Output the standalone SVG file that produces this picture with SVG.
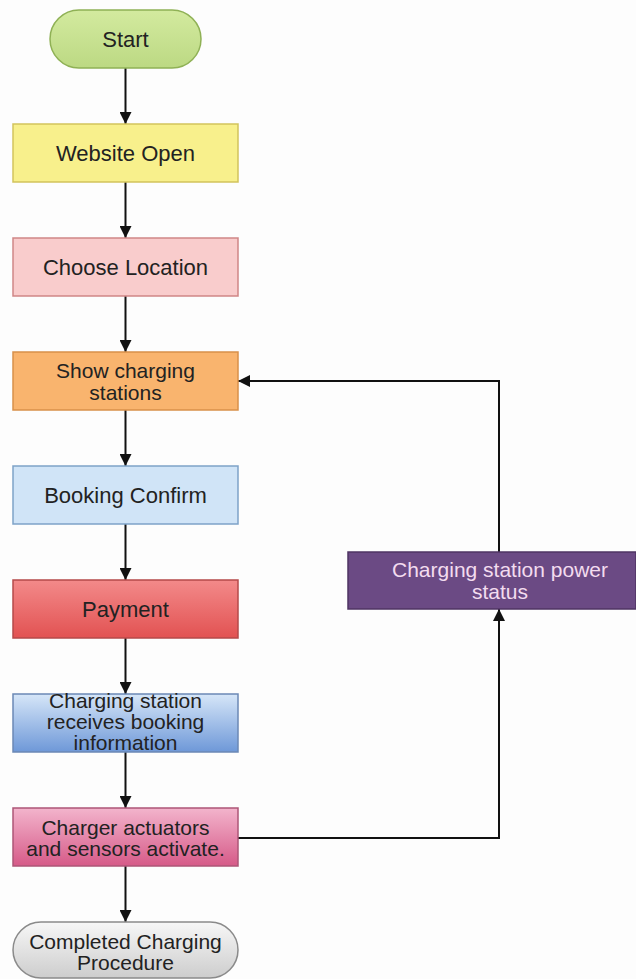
<svg xmlns="http://www.w3.org/2000/svg" width="636" height="979" viewBox="0 0 636 979">
  <style>
    .lbl { font-family: "Liberation Sans", Arial, sans-serif; font-size: 22px; fill: #222; text-anchor: middle; }
    .ml { font-size: 21px; }
    .lbl-light { font-family: "Liberation Sans", Arial, sans-serif; font-size: 21px; fill: #f3dcef; text-anchor: middle; }
    .edge { fill: none; stroke: #111; stroke-width: 2; }
    .box { stroke-width: 1.5; }
  </style>
  <defs>
    <marker id="arrow" viewBox="0 0 12 12" refX="12" refY="6" markerWidth="12" markerHeight="12" markerUnits="userSpaceOnUse" orient="auto">
      <path d="M0,0 L12,6 L0,12 Z" fill="#111"/>
    </marker>
    <linearGradient id="gStart" x1="0" y1="0" x2="0" y2="1">
      <stop offset="0" stop-color="#d3ea9f"/>
      <stop offset="1" stop-color="#bcd983"/>
    </linearGradient>
    <linearGradient id="gPay" x1="0" y1="0" x2="0" y2="1">
      <stop offset="0" stop-color="#f38a8a"/>
      <stop offset="1" stop-color="#e25252"/>
    </linearGradient>
    <linearGradient id="gRecv" x1="0" y1="0" x2="0" y2="1">
      <stop offset="0" stop-color="#d6e6f8"/>
      <stop offset="1" stop-color="#6e98d8"/>
    </linearGradient>
    <linearGradient id="gAct" x1="0" y1="0" x2="0" y2="1">
      <stop offset="0" stop-color="#f3b4cc"/>
      <stop offset="1" stop-color="#d65a88"/>
    </linearGradient>
    <linearGradient id="gDone" x1="0" y1="0" x2="0" y2="1">
      <stop offset="0" stop-color="#f7f7f7"/>
      <stop offset="1" stop-color="#cdcdcd"/>
    </linearGradient>
  </defs>

  <rect x="0" y="0" width="636" height="979" fill="#fdfdfd"/>

  <!-- connectors -->
  <g id="connectors">
    <line class="edge" x1="125.5" y1="68" x2="125.5" y2="124" marker-end="url(#arrow)"/>
    <line class="edge" x1="125.5" y1="182" x2="125.5" y2="238" marker-end="url(#arrow)"/>
    <line class="edge" x1="125.5" y1="296" x2="125.5" y2="352" marker-end="url(#arrow)"/>
    <line class="edge" x1="125.5" y1="410" x2="125.5" y2="466" marker-end="url(#arrow)"/>
    <line class="edge" x1="125.5" y1="524" x2="125.5" y2="580" marker-end="url(#arrow)"/>
    <line class="edge" x1="125.5" y1="638" x2="125.5" y2="694" marker-end="url(#arrow)"/>
    <line class="edge" x1="125.5" y1="752" x2="125.5" y2="808" marker-end="url(#arrow)"/>
    <line class="edge" x1="125.5" y1="866" x2="125.5" y2="922" marker-end="url(#arrow)"/>
    <polyline class="edge" points="238,838 499,838 499,609" marker-end="url(#arrow)"/>
    <polyline class="edge" points="499,552 499,381 238,381" marker-end="url(#arrow)"/>
  </g>

  <g id="start">
    <rect class="box" x="50" y="10" width="151" height="58" rx="29" fill="url(#gStart)" stroke="#8fb155"/>
    <text class="lbl" x="125.5" y="46.5">Start</text>
  </g>

  <g id="website-open">
    <rect class="box" x="13" y="124" width="225" height="58" fill="#f8f08c" stroke="#d2c35c"/>
    <text class="lbl" x="125.5" y="160.5">Website Open</text>
  </g>

  <g id="choose-location">
    <rect class="box" x="13" y="238" width="225" height="58" fill="#f9cccc" stroke="#cf8686"/>
    <text class="lbl" x="125.5" y="274.5">Choose Location</text>
  </g>

  <g id="show-stations">
    <rect class="box" x="13" y="352" width="225" height="58" fill="#f9b46e" stroke="#d8904a"/>
    <text class="lbl ml" x="125.5" y="377.5">Show charging</text>
    <text class="lbl ml" x="125.5" y="399.5">stations</text>
  </g>

  <g id="booking-confirm">
    <rect class="box" x="13" y="466" width="225" height="58" fill="#d0e4f7" stroke="#7ea2c8"/>
    <text class="lbl" x="125.5" y="502.5">Booking Confirm</text>
  </g>

  <g id="payment">
    <rect class="box" x="13" y="580" width="225" height="58" fill="url(#gPay)" stroke="#b54a4a"/>
    <text class="lbl" x="125.5" y="616.5">Payment</text>
  </g>

  <g id="station-receives">
    <rect class="box" x="13" y="694" width="225" height="58" fill="url(#gRecv)" stroke="#6b88b5"/>
    <text class="lbl ml" x="125.5" y="707.5">Charging station</text>
    <text class="lbl ml" x="125.5" y="728.5">receives booking</text>
    <text class="lbl ml" x="125.5" y="749.5">information</text>
  </g>

  <g id="actuators">
    <rect class="box" x="13" y="808" width="225" height="58" fill="url(#gAct)" stroke="#ad5677"/>
    <text class="lbl ml" x="125.5" y="834.5">Charger actuators</text>
    <text class="lbl ml" x="125.5" y="855.5">and sensors activate.</text>
  </g>

  <g id="completed">
    <rect class="box" x="13" y="922" width="225" height="56" rx="28" fill="url(#gDone)" stroke="#8a8a8a"/>
    <text class="lbl ml" x="125.5" y="948.5">Completed Charging</text>
    <text class="lbl ml" x="125.5" y="969.5">Procedure</text>
  </g>

  <g id="power-status">
    <rect class="box" x="348" y="552" width="288" height="57" fill="#6b4a84" stroke="#4f3563"/>
    <text class="lbl-light" x="500" y="576.5">Charging station power</text>
    <text class="lbl-light" x="500" y="598.5">status</text>
  </g>
</svg>
